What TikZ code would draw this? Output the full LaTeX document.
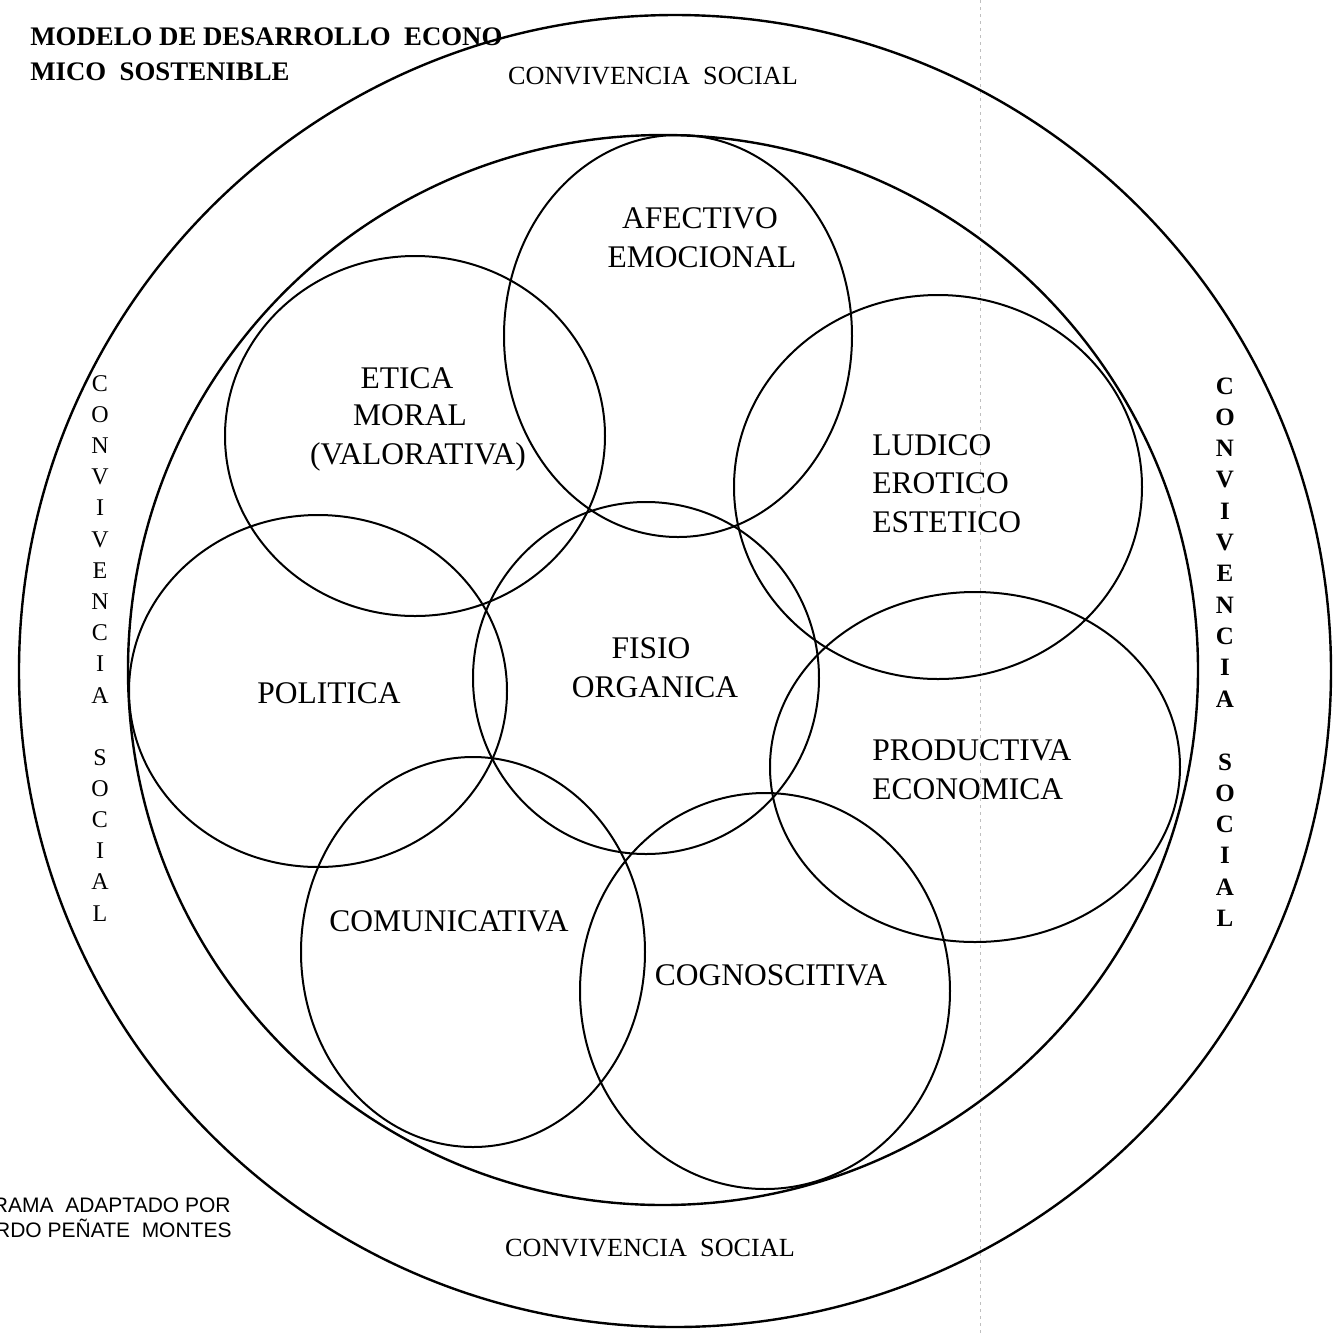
\documentclass[tikz,border=0pt]{standalone}
\usepackage{fontspec}
\setmainfont{Liberation Serif}[BoldFont={Liberation Serif Bold}]
\newfontfamily\credfont{Liberation Sans}
\usetikzlibrary{shapes.geometric}
\begin{document}
\begin{tikzpicture}[x=0.5pt,y=-0.5pt,
  ring/.style={draw=black, line width=1pt, ellipse, inner sep=0pt, outer sep=0pt},
  bigring/.style={draw=black, line width=1.2pt, circle, inner sep=0pt, outer sep=0pt},
  lbl/.style={font=\fontsize{15.75}{18}\selectfont, inner sep=0pt, anchor=base},
  lblw/.style={lbl, anchor=base west},
  conv/.style={font=\fontsize{13.1}{15}\selectfont, inner sep=0pt, anchor=base},
  vleft/.style={font=\fontsize{12}{14}\selectfont, inner sep=0pt, anchor=base},
  vright/.style={font=\bfseries\fontsize{12.5}{14}\selectfont, inner sep=0pt, anchor=base},
  titlefont/.style={font=\bfseries\fontsize{13.4}{16}\selectfont, inner sep=0pt, anchor=base west},
  credit/.style={font=\credfont\fontsize{10.5}{12}\selectfont, inner sep=0pt, anchor=base east},
  fold/.style={draw=black!25, line width=0.3pt, dash pattern=on 1.5pt off 2pt}
]
\useasboundingbox (0,0) rectangle (1333,1335);
\fill[white] (0,0) rectangle (1333,1335);

% faint fold line of the scan
\coordinate (foldtop) at (980,0);
\coordinate (foldbot) at (980,1335);
\draw[fold] (foldtop) -- (foldbot);

% outer and inner circles
\node[bigring, minimum size=656pt] (outer) at (675,671) {};
\node[bigring, minimum size=535pt] (inner) at (663,670) {};

% dimension circles
\node[ring, minimum width=174pt, minimum height=201pt] (afectivo) at (678,336) {};
\node[ring, minimum width=190pt, minimum height=180pt] (etica) at (415,436) {};
\node[ring, minimum width=204pt, minimum height=192pt] (ludico) at (938,487) {};
\node[ring, minimum width=173pt, minimum height=176pt] (fisio) at (646,678) {};
\node[ring, minimum width=189pt, minimum height=176pt] (politica) at (318,691) {};
\node[ring, minimum width=205pt, minimum height=175pt] (productiva) at (975,767) {};
\node[ring, minimum width=172pt, minimum height=195pt] (comunicativa) at (473,952) {};
\node[ring, minimum width=185pt, minimum height=198pt] (cognoscitiva) at (765,991) {};

% labels
\node[lbl] (tafe1) at (700,228) {AFECTIVO};
\node[lbl] (tafe2) at (702,267) {EMOCIONAL};
\node[lbl] (teti1) at (407,388) {ETICA};
\node[lbl] (teti2) at (410,425) {MORAL};
\node[lbl] (teti3) at (418,464) {(VALORATIVA)};
\node[lblw] (tlud1) at (872,455) {LUDICO};
\node[lblw] (tlud2) at (872,493) {EROTICO};
\node[lblw] (tlud3) at (872,532) {ESTETICO};
\node[lbl] (tfis1) at (651,658) {FISIO};
\node[lbl] (tfis2) at (655,697) {ORGANICA};
\node[lbl] (tpol) at (329,703) {POLITICA};
\node[lblw] (tpro1) at (872,760) {PRODUCTIVA};
\node[lblw] (tpro2) at (872,799) {ECONOMICA};
\node[lbl] (tcom) at (449,931) {COMUNICATIVA};
\node[lbl] (tcog) at (771,985) {COGNOSCITIVA};

% convivencia social
\node[conv] (convtop) at (653,84) {CONVIVENCIA\ \ SOCIAL};
\node[conv] (convbot) at (650,1256) {CONVIVENCIA\ \ SOCIAL};
\foreach \ch [count=\i from 0] in {C,O,N,V,I,V,E,N,C,I,A} {
  \node[vleft] (vl\i) at (100,391+31.2*\i) {\ch};
  \node[vright] (vr\i) at (1225,394+31.3*\i) {\ch};
}
\foreach \ch [count=\i from 0] in {S,O,C,I,A,L} {
  \node[vleft] (vls\i) at (100,765+31.2*\i) {\ch};
  \node[vright] (vrs\i) at (1225,770+31.3*\i) {\ch};
}

% title and credit
\node[titlefont] (title1) at (30,45) {MODELO DE DESARROLLO\ \ ECONO};
\node[titlefont] (title2) at (30,80) {MICO\ \ SOSTENIBLE};
\node[credit] (cred1) at (231,1212) {RAMA\ \ ADAPTADO POR};
\node[credit] (cred2) at (232,1237) {RDO PEÑATE\ \ MONTES};
\end{tikzpicture}
\end{document}
